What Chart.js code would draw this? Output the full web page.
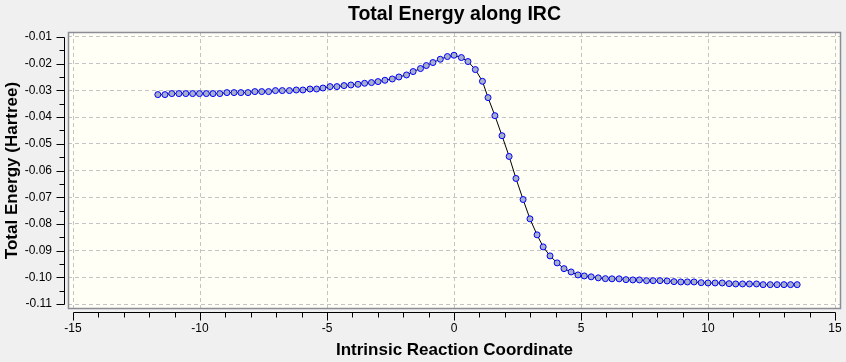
<!DOCTYPE html>
<html>
<head>
<meta charset="utf-8">
<script src="https://cdn.jsdelivr.net/npm/chart.js@4/dist/chart.umd.min.js"></script>
<style>
  html, body { margin: 0; padding: 0; background: #f0f0f0; }
  #wrap { width: 846px; height: 362px; }
</style>
</head>
<body>
<div id="wrap"><canvas id="c" width="846" height="362"></canvas></div>
<script>
// ---- data ----
const ircCoordinate = [
  -11.66, -11.38, -11.11, -10.83, -10.56, -10.29, -10.02, -9.75, -9.49, -9.22,
  -8.94, -8.66, -8.39, -8.11, -7.84, -7.57, -7.30, -7.03, -6.76, -6.48,
  -6.21, -5.95, -5.67, -5.41, -5.16, -4.88, -4.61, -4.33, -4.06, -3.78,
  -3.52, -3.25, -2.99, -2.72, -2.43, -2.17, -1.87, -1.61, -1.32, -1.09,
  -0.83, -0.54, -0.26, 0.00, 0.29, 0.55, 0.84, 1.12, 1.34, 1.61,
  1.89, 2.17, 2.44, 2.72, 2.99, 3.27, 3.51, 3.78, 4.06, 4.33,
  4.61, 4.88, 5.13, 5.40, 5.68, 5.96, 6.22, 6.50, 6.77, 7.04,
  7.30, 7.58, 7.84, 8.11, 8.39, 8.66, 8.93, 9.19, 9.45, 9.73,
  10.00, 10.28, 10.56, 10.83, 11.09, 11.36, 11.63, 11.91, 12.17, 12.45,
  12.72, 12.99, 13.25, 13.51
];
const totalEnergy = [
  -0.03162, -0.03162, -0.03124, -0.03124, -0.03124, -0.03124, -0.03124, -0.03124, -0.03124, -0.03124,
  -0.03087, -0.03087, -0.03087, -0.03087, -0.03049, -0.03049, -0.03049, -0.03012, -0.03012, -0.03012,
  -0.02989, -0.02989, -0.02952, -0.02952, -0.02915, -0.02862, -0.02862, -0.02825, -0.02802, -0.02776,
  -0.02738, -0.02712, -0.02675, -0.02626, -0.02577, -0.02502, -0.02427, -0.02300, -0.02188, -0.02075,
  -0.01963, -0.01839, -0.01738, -0.01689, -0.01776, -0.01925, -0.02225, -0.02664, -0.03274, -0.03949,
  -0.04698, -0.05474, -0.06298, -0.07085, -0.07808, -0.08407, -0.08857, -0.09194, -0.09456, -0.09670,
  -0.09794, -0.09906, -0.09943, -0.09977, -0.10015, -0.10045, -0.10052, -0.10052, -0.10082, -0.10093,
  -0.10093, -0.10120, -0.10120, -0.10120, -0.10131, -0.10157, -0.10168, -0.10168, -0.10168, -0.10195,
  -0.10206, -0.10206, -0.10206, -0.10232, -0.10243, -0.10243, -0.10243, -0.10243, -0.10269, -0.10269,
  -0.10269, -0.10269, -0.10269, -0.10269
];
const xTickValues = [-15, -10, -5, 0, 5, 10, 15];
const xTickLabels = ['-15', '-10', '-5', '0', '5', '10', '15'];
const yTickValues = [-0.01, -0.02, -0.03, -0.04, -0.05, -0.06, -0.07, -0.08, -0.09, -0.10, -0.11];
const yTickLabels = ['-0.01', '-0.02', '-0.03', '-0.04', '-0.05', '-0.06', '-0.07', '-0.08', '-0.09', '-0.10', '-0.11'];
const xMinorTicks = [-14,-13,-12,-11,-9,-8,-7,-6,-4,-3,-2,-1,1,2,3,4,6,7,8,9,11,12,13,14];
const yMinorTicks = [-0.015,-0.025,-0.035,-0.045,-0.055,-0.065,-0.075,-0.085,-0.095,-0.105];
const chartTitle = 'Total Energy along IRC';
const xTitle = 'Intrinsic Reaction Coordinate';
const yTitle = 'Total Energy (Hartree)';

const points = ircCoordinate.map((x, i) => ({ x: x, y: totalEnergy[i] }));

Chart.defaults.font.family = '"Liberation Sans", Arial, sans-serif';
Chart.defaults.color = '#000';

const frame = {
  id: 'frame',
  beforeDraw(chart) {
    const { ctx, chartArea: a } = chart;
    ctx.save();
    ctx.fillStyle = '#f0f0f0';
    ctx.fillRect(0, 0, chart.width, chart.height);
    ctx.fillStyle = '#fffff6';
    ctx.fillRect(a.left, a.top, a.right - a.left, a.bottom - a.top);
    ctx.restore();
  },
  afterDraw(chart) {
    const { ctx, chartArea: a, scales } = chart;
    const xs = scales.x, ys = scales.y;
    ctx.save();
    // plot box
    ctx.strokeStyle = '#8c8c96';
    ctx.lineWidth = 1.5;
    ctx.strokeRect(a.left + 0.5, a.top + 0.5, a.right - a.left - 1, a.bottom - a.top - 1);
    ctx.strokeStyle = '#000';
    ctx.lineWidth = 1;
    // y axis
    const ax = Math.round(a.left - 4) + 0.5;
    const yTop = ys.getPixelForValue(yTickValues[0]);
    const yBot = ys.getPixelForValue(yTickValues[yTickValues.length - 1]);
    ctx.beginPath();
    ctx.moveTo(ax, Math.round(yTop) + 0.5);
    ctx.lineTo(ax, Math.round(yBot) + 0.5);
    yTickValues.forEach(v => {
      const p = Math.round(ys.getPixelForValue(v)) + 0.5;
      ctx.moveTo(ax - 8, p); ctx.lineTo(ax, p);
    });
    yMinorTicks.forEach(v => {
      const p = Math.round(ys.getPixelForValue(v)) + 0.5;
      ctx.moveTo(ax - 5, p); ctx.lineTo(ax, p);
    });
    // x axis
    const ay = Math.round(a.bottom + 3) + 0.5;
    const xL = xs.getPixelForValue(xTickValues[0]);
    const xR = xs.getPixelForValue(xTickValues[xTickValues.length - 1]);
    ctx.moveTo(Math.round(xL) + 0.5, ay);
    ctx.lineTo(Math.round(xR) + 0.5, ay);
    xTickValues.forEach(v => {
      const p = Math.round(xs.getPixelForValue(v)) + 0.5;
      ctx.moveTo(p, ay); ctx.lineTo(p, ay + 8);
    });
    xMinorTicks.forEach(v => {
      const p = Math.round(xs.getPixelForValue(v)) + 0.5;
      ctx.moveTo(p, ay); ctx.lineTo(p, ay + 5);
    });
    ctx.stroke();
    ctx.restore();
  }
};

new Chart(document.getElementById('c'), {
  type: 'line',
  data: {
    datasets: [{
      data: points,
      borderColor: '#000000',
      borderWidth: 1,
      tension: 0,
      fill: false,
      pointRadius: 3,
      pointBorderWidth: 1,
      pointBorderColor: '#0000ff',
      pointBackgroundColor: '#a8b0c8'
    }]
  },
  options: {
    responsive: false,
    animation: false,
    devicePixelRatio: 1,
    layout: { padding: { left: 0, right: 5, top: 0, bottom: 0 } },
    plugins: {
      legend: { display: false },
      tooltip: { enabled: false },
      title: {
        display: true,
        text: chartTitle,
        fullSize: false,
        font: { size: 19.5, weight: 'bold' },
        color: '#000',
        padding: { top: 3, bottom: 5.6 }
      }
    },
    scales: {
      x: {
        type: 'linear',
        min: -15.197,
        max: 15.236,
        afterFit(scale) { scale.height = 53; },
        afterBuildTicks(scale) { scale.ticks = xTickValues.map(v => ({ value: v })); },
        ticks: {
          autoSkip: false,
          maxRotation: 0,
          padding: 2,
          font: { size: 12 },
          color: '#000',
          callback: (v, i) => xTickLabels[i]
        },
        grid: { color: '#c4c4c4', lineWidth: 1, drawTicks: true, tickLength: 10, tickColor: 'rgba(0,0,0,0)' },
        border: { display: false, dash: [4, 3] },
        title: {
          display: true,
          text: xTitle,
          font: { size: 17, weight: 'bold' },
          color: '#000',
          padding: { top: 0, bottom: 1.3 }
        }
      },
      y: {
        type: 'linear',
        min: -0.1118,
        max: -0.0082,
        afterFit(scale) { scale.width = 68; },
        afterBuildTicks(scale) { scale.ticks = yTickValues.map(v => ({ value: v })); },
        ticks: {
          autoSkip: false,
          padding: 4,
          font: { size: 12 },
          color: '#000',
          callback: (v, i) => yTickLabels[i]
        },
        grid: { color: '#c4c4c4', lineWidth: 1, drawTicks: true, tickLength: 12, tickColor: 'rgba(0,0,0,0)' },
        border: { display: false, dash: [4, 3] },
        title: {
          display: true,
          text: yTitle,
          font: { size: 17, weight: 'bold' },
          color: '#000',
          padding: { top: 2.3, bottom: 0 }
        }
      }
    }
  },
  plugins: [frame]
});
</script>
</body>
</html>
